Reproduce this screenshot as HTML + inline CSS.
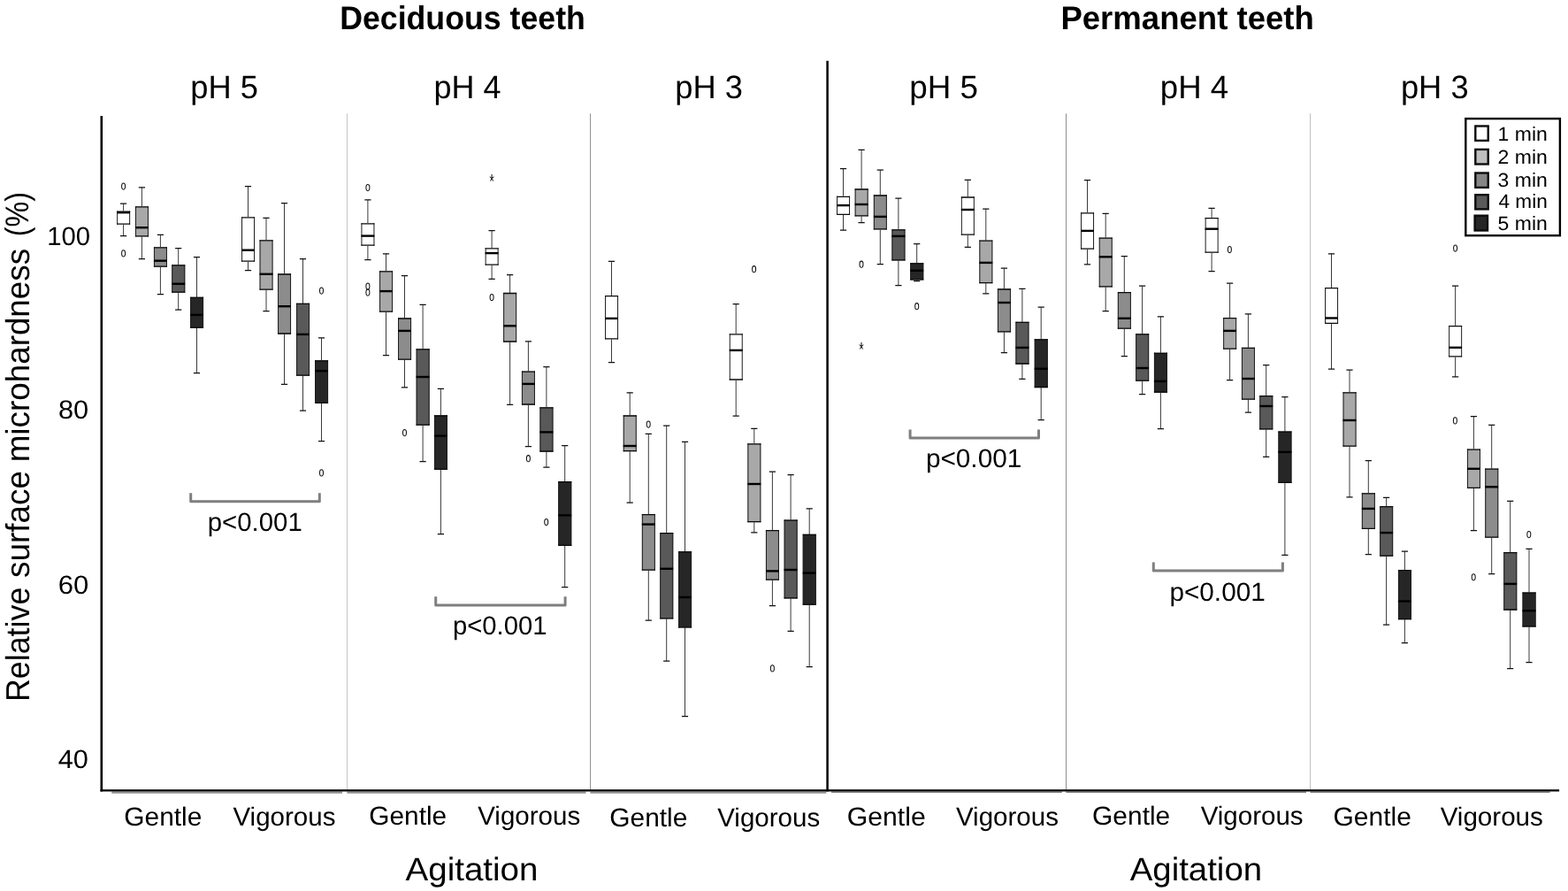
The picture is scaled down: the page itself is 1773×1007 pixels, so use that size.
<!DOCTYPE html>
<html lang="en"><head><meta charset="utf-8"><title>Relative surface microhardness</title>
<style>
html,body{margin:0;padding:0;background:#fff;}
body{width:1773px;height:1007px;overflow:hidden;}
svg{display:block;position:absolute;left:0;top:0;}
text{font-family:"Liberation Sans",sans-serif;fill:#000;text-rendering:geometricPrecision;}
.bv{stroke:#1c1c1c;stroke-width:1;fill:none;}
.bh{stroke:#0a0a0a;stroke-width:1.3;fill:none;}
.wh{stroke:#3a3a3a;stroke-width:1;fill:none;}
.cp{stroke:#111;stroke-width:1.25;fill:none;}
.md{stroke:#000;stroke-width:2.4;}
.ol{stroke:#111;stroke-width:1.05;fill:none;}
.st{stroke:#111;stroke-width:1;fill:none;}
.br{stroke:#7f7f7f;stroke-width:3;fill:none;stroke-linejoin:round;stroke-linecap:butt;}
</style></head><body>
<svg width="1773" height="1007" viewBox="0 0 1773 1007">
<rect x="0" y="0" width="1773" height="1007" fill="#fff"/>
<g fill="none">
<line x1="392.5" y1="128.3" x2="392.5" y2="893" stroke="#c4c4c4" stroke-width="1"/>
<line x1="667.6" y1="128.3" x2="667.6" y2="893" stroke="#8c8c8c" stroke-width="1"/>
<line x1="1205.5" y1="128.3" x2="1205.5" y2="893" stroke="#8c8c8c" stroke-width="1"/>
<line x1="1481.6" y1="128.3" x2="1481.6" y2="893" stroke="#bdbdbd" stroke-width="1"/>
<line x1="114.8" y1="131" x2="114.8" y2="894.5" stroke="#000" stroke-width="2.6"/>
<line x1="126.2" y1="895.6" x2="387" y2="895.6" stroke="#909090" stroke-width="2.2"/>
<line x1="392.3" y1="895.6" x2="662.5" y2="895.6" stroke="#909090" stroke-width="2.2"/>
<line x1="667.4" y1="895.6" x2="934.3" y2="895.6" stroke="#909090" stroke-width="2.2"/>
<line x1="940" y1="895.2" x2="1200.8" y2="895.2" stroke="#7a7a7a" stroke-width="1.5"/>
<line x1="1205.4" y1="895.2" x2="1477" y2="895.2" stroke="#7a7a7a" stroke-width="1.5"/>
<line x1="1481.5" y1="895.2" x2="1752.6" y2="895.2" stroke="#7a7a7a" stroke-width="1.5"/>
<line x1="113.5" y1="893.4" x2="1763.1" y2="893.4" stroke="#000" stroke-width="2.2"/>
<line x1="935.6" y1="68.7" x2="935.6" y2="894.5" stroke="#000" stroke-width="2.5"/>
</g>
<g id="p1g">
<path class="wh" d="M139.6 230.1V238.7M139.6 253.6V266.7"/>
<path class="cp" d="M136 230.1H143.2M136 266.7H143.2"/>
<rect x="132.15" y="238.5" width="15" height="15.3" fill="#ffffff"/>
<path class="bv" d="M132.65 238.5V253.8M146.65 238.5V253.8"/>
<path class="bh" d="M132.15 239.1H147.15M132.15 253.2H147.15"/>
<line class="md" x1="132.15" y1="240.2" x2="147.05" y2="240.2"/>
<path class="wh" d="M160.4 211.8V233.5M160.4 267.3V292.5"/>
<path class="cp" d="M156.8 211.8H164M156.8 292.5H164"/>
<rect x="152.95" y="233.3" width="15" height="34.2" fill="#a8a8a8"/>
<path class="bv" d="M153.45 233.3V267.5M167.45 233.3V267.5"/>
<path class="bh" d="M152.95 233.9H167.95M152.95 266.9H167.95"/>
<line class="md" x1="152.95" y1="257.2" x2="167.85" y2="257.2"/>
<path class="wh" d="M181.4 265.4V279.5M181.4 301.5V332.6"/>
<path class="cp" d="M177.8 265.4H185M177.8 332.6H185"/>
<rect x="173.95" y="279.3" width="15" height="22.4" fill="#8c8c8c"/>
<path class="bv" d="M174.45 279.3V301.7M188.45 279.3V301.7"/>
<path class="bh" d="M173.95 279.9H188.95M173.95 301.1H188.95"/>
<line class="md" x1="173.95" y1="294.7" x2="188.85" y2="294.7"/>
<path class="wh" d="M201.7 280.5V299.5M201.7 330.6V350.1"/>
<path class="cp" d="M198.1 280.5H205.3M198.1 350.1H205.3"/>
<rect x="194.25" y="299.3" width="15" height="31.5" fill="#595959"/>
<path class="bv" d="M194.75 299.3V330.8M208.75 299.3V330.8"/>
<path class="bh" d="M194.25 299.9H209.25M194.25 330.2H209.25"/>
<line class="md" x1="194.25" y1="320.8" x2="209.15" y2="320.8"/>
<path class="wh" d="M222.5 290.7V336M222.5 370.6V421.5"/>
<path class="cp" d="M218.9 290.7H226.1M218.9 421.5H226.1"/>
<rect x="215.05" y="335.8" width="15" height="35" fill="#262626"/>
<path class="bv" d="M215.55 335.8V370.8M229.55 335.8V370.8"/>
<path class="bh" d="M215.05 336.4H230.05M215.05 370.2H230.05"/>
<line class="md" x1="215.05" y1="355.9" x2="229.95" y2="355.9"/>
</g>
<g id="p1v">
<path class="wh" d="M280.5 210.6V245.5M280.5 295.6V305.7"/>
<path class="cp" d="M276.9 210.6H284.1M276.9 305.7H284.1"/>
<rect x="273.05" y="245.3" width="15" height="50.5" fill="#ffffff"/>
<path class="bv" d="M273.55 245.3V295.8M287.55 245.3V295.8"/>
<path class="bh" d="M273.05 245.9H288.05M273.05 295.2H288.05"/>
<line class="md" x1="273.05" y1="282.7" x2="287.95" y2="282.7"/>
<path class="wh" d="M301 246.3V271.5M301 327.5V351.5"/>
<path class="cp" d="M297.4 246.3H304.6M297.4 351.5H304.6"/>
<rect x="293.55" y="271.3" width="15" height="56.4" fill="#a8a8a8"/>
<path class="bv" d="M294.05 271.3V327.7M308.05 271.3V327.7"/>
<path class="bh" d="M293.55 271.9H308.55M293.55 327.1H308.55"/>
<line class="md" x1="293.55" y1="309.8" x2="308.45" y2="309.8"/>
<path class="wh" d="M321.5 229.6V309.6M321.5 377.4V434.4"/>
<path class="cp" d="M317.9 229.6H325.1M317.9 434.4H325.1"/>
<rect x="314.05" y="309.4" width="15" height="68.2" fill="#8c8c8c"/>
<path class="bv" d="M314.55 309.4V377.6M328.55 309.4V377.6"/>
<path class="bh" d="M314.05 310H329.05M314.05 377H329.05"/>
<line class="md" x1="314.05" y1="346.2" x2="328.95" y2="346.2"/>
<path class="wh" d="M342.5 292.5V343M342.5 424.5V464"/>
<path class="cp" d="M338.9 292.5H346.1M338.9 464H346.1"/>
<rect x="335.05" y="342.8" width="15" height="81.9" fill="#595959"/>
<path class="bv" d="M335.55 342.8V424.7M349.55 342.8V424.7"/>
<path class="bh" d="M335.05 343.4H350.05M335.05 424.1H350.05"/>
<line class="md" x1="335.05" y1="377.9" x2="349.95" y2="377.9"/>
<path class="wh" d="M363.5 381.8V407.5M363.5 455.8V498.5"/>
<path class="cp" d="M359.9 381.8H367.1M359.9 498.5H367.1"/>
<rect x="356.05" y="407.3" width="15" height="48.7" fill="#262626"/>
<path class="bv" d="M356.55 407.3V456M370.55 407.3V456"/>
<path class="bh" d="M356.05 407.9H371.05M356.05 455.4H371.05"/>
<line class="md" x1="356.05" y1="419.2" x2="370.95" y2="419.2"/>
</g>
<g id="p2g">
<path class="wh" d="M415.9 225.9V252.4M415.9 277.6V293.5"/>
<path class="cp" d="M412.3 225.9H419.5M412.3 293.5H419.5"/>
<rect x="408.45" y="252.2" width="15" height="25.6" fill="#ffffff"/>
<path class="bv" d="M408.95 252.2V277.8M422.95 252.2V277.8"/>
<path class="bh" d="M408.45 252.8H423.45M408.45 277.2H423.45"/>
<line class="md" x1="408.45" y1="266.6" x2="423.35" y2="266.6"/>
<path class="wh" d="M436.5 286.8V306.4M436.5 352.5V401.7"/>
<path class="cp" d="M432.9 286.8H440.1M432.9 401.7H440.1"/>
<rect x="429.05" y="306.2" width="15" height="46.5" fill="#a8a8a8"/>
<path class="bv" d="M429.55 306.2V352.7M443.55 306.2V352.7"/>
<path class="bh" d="M429.05 306.8H444.05M429.05 352.1H444.05"/>
<line class="md" x1="429.05" y1="329.1" x2="443.95" y2="329.1"/>
<path class="wh" d="M457.5 311.5V359.6M457.5 406.5V437.9"/>
<path class="cp" d="M453.9 311.5H461.1M453.9 437.9H461.1"/>
<rect x="450.05" y="359.4" width="15" height="47.3" fill="#8c8c8c"/>
<path class="bv" d="M450.55 359.4V406.7M464.55 359.4V406.7"/>
<path class="bh" d="M450.05 360H465.05M450.05 406.1H465.05"/>
<line class="md" x1="450.05" y1="373.9" x2="464.95" y2="373.9"/>
<path class="wh" d="M478.1 344.3V394.5M478.1 480.6V521.5"/>
<path class="cp" d="M474.5 344.3H481.7M474.5 521.5H481.7"/>
<rect x="470.65" y="394.3" width="15" height="86.5" fill="#595959"/>
<path class="bv" d="M471.15 394.3V480.8M485.15 394.3V480.8"/>
<path class="bh" d="M470.65 394.9H485.65M470.65 480.2H485.65"/>
<line class="md" x1="470.65" y1="426" x2="485.55" y2="426"/>
<path class="wh" d="M498.4 439.3V469.6M498.4 530.7V603.5"/>
<path class="cp" d="M494.8 439.3H502M494.8 603.5H502"/>
<rect x="490.95" y="469.4" width="15" height="61.5" fill="#262626"/>
<path class="bv" d="M491.45 469.4V530.9M505.45 469.4V530.9"/>
<path class="bh" d="M490.95 470H505.95M490.95 530.3H505.95"/>
<line class="md" x1="490.95" y1="492.6" x2="505.85" y2="492.6"/>
</g>
<g id="p2v">
<path class="wh" d="M556.1 260.5V280.5M556.1 299.5V315.3"/>
<path class="cp" d="M552.5 260.5H559.7M552.5 315.3H559.7"/>
<rect x="548.65" y="280.3" width="15" height="19.4" fill="#ffffff"/>
<path class="bv" d="M549.15 280.3V299.7M563.15 280.3V299.7"/>
<path class="bh" d="M548.65 280.9H563.65M548.65 299.1H563.65"/>
<line class="md" x1="548.65" y1="286.1" x2="563.55" y2="286.1"/>
<path class="wh" d="M576.6 310.5V331.1M576.6 386.4V457.4"/>
<path class="cp" d="M573 310.5H580.2M573 457.4H580.2"/>
<rect x="569.15" y="330.9" width="15" height="55.7" fill="#a8a8a8"/>
<path class="bv" d="M569.65 330.9V386.6M583.65 330.9V386.6"/>
<path class="bh" d="M569.15 331.5H584.15M569.15 386H584.15"/>
<line class="md" x1="569.15" y1="368.3" x2="584.05" y2="368.3"/>
<path class="wh" d="M597.4 385.9V419.7M597.4 457.4V504.6"/>
<path class="cp" d="M593.8 385.9H601M593.8 504.6H601"/>
<rect x="589.95" y="419.5" width="15" height="38.1" fill="#8c8c8c"/>
<path class="bv" d="M590.45 419.5V457.6M604.45 419.5V457.6"/>
<path class="bh" d="M589.95 420.1H604.95M589.95 457H604.95"/>
<line class="md" x1="589.95" y1="433.9" x2="604.85" y2="433.9"/>
<path class="wh" d="M617.9 414.5V460.5M617.9 510.4V528.1"/>
<path class="cp" d="M614.3 414.5H621.5M614.3 528.1H621.5"/>
<rect x="610.45" y="460.3" width="15" height="50.3" fill="#595959"/>
<path class="bv" d="M610.95 460.3V510.6M624.95 460.3V510.6"/>
<path class="bh" d="M610.45 460.9H625.45M610.45 510H625.45"/>
<line class="md" x1="610.45" y1="488.4" x2="625.35" y2="488.4"/>
<path class="wh" d="M638.7 503.5V544.2M638.7 616.8V663.6"/>
<path class="cp" d="M635.1 503.5H642.3M635.1 663.6H642.3"/>
<rect x="631.25" y="544" width="15" height="73" fill="#262626"/>
<path class="bv" d="M631.75 544V617M645.75 544V617"/>
<path class="bh" d="M631.25 544.6H646.25M631.25 616.4H646.25"/>
<line class="md" x1="631.25" y1="582.4" x2="646.15" y2="582.4"/>
</g>
<g id="p3g">
<path class="wh" d="M691.5 295.4V334.3M691.5 383.2V409.7"/>
<path class="cp" d="M687.9 295.4H695.1M687.9 409.7H695.1"/>
<rect x="684.05" y="334.1" width="15" height="49.3" fill="#ffffff"/>
<path class="bv" d="M684.55 334.1V383.4M698.55 334.1V383.4"/>
<path class="bh" d="M684.05 334.7H699.05M684.05 382.8H699.05"/>
<line class="md" x1="684.05" y1="359.9" x2="698.95" y2="359.9"/>
<path class="wh" d="M712.2 443.8V469.6M712.2 510.1V568"/>
<path class="cp" d="M708.6 443.8H715.8M708.6 568H715.8"/>
<rect x="704.75" y="469.4" width="15" height="40.9" fill="#a8a8a8"/>
<path class="bv" d="M705.25 469.4V510.3M719.25 469.4V510.3"/>
<path class="bh" d="M704.75 470H719.75M704.75 509.7H719.75"/>
<line class="md" x1="704.75" y1="504" x2="719.65" y2="504"/>
<path class="wh" d="M733.3 490.4V581.3M733.3 644.5V701"/>
<path class="cp" d="M729.7 490.4H736.9M729.7 701H736.9"/>
<rect x="725.85" y="581.1" width="15" height="63.6" fill="#8c8c8c"/>
<path class="bv" d="M726.35 581.1V644.7M740.35 581.1V644.7"/>
<path class="bh" d="M725.85 581.7H740.85M725.85 644.1H740.85"/>
<line class="md" x1="725.85" y1="592.6" x2="740.75" y2="592.6"/>
<path class="wh" d="M753.7 481V602.3M753.7 699.2V747.2"/>
<path class="cp" d="M750.1 481H757.3M750.1 747.2H757.3"/>
<rect x="746.25" y="602.1" width="15" height="97.3" fill="#595959"/>
<path class="bv" d="M746.75 602.1V699.4M760.75 602.1V699.4"/>
<path class="bh" d="M746.25 602.7H761.25M746.25 698.8H761.25"/>
<line class="md" x1="746.25" y1="642.8" x2="761.15" y2="642.8"/>
<path class="wh" d="M774.5 499.4V623.4M774.5 709.2V809.6"/>
<path class="cp" d="M770.9 499.4H778.1M770.9 809.6H778.1"/>
<rect x="767.05" y="623.2" width="15" height="86.2" fill="#262626"/>
<path class="bv" d="M767.55 623.2V709.4M781.55 623.2V709.4"/>
<path class="bh" d="M767.05 623.8H782.05M767.05 708.8H782.05"/>
<line class="md" x1="767.05" y1="675" x2="781.95" y2="675"/>
</g>
<g id="p3v">
<path class="wh" d="M832.2 343.6V377.5M832.2 429.4V470.2"/>
<path class="cp" d="M828.6 343.6H835.8M828.6 470.2H835.8"/>
<rect x="824.75" y="377.3" width="15" height="52.3" fill="#ffffff"/>
<path class="bv" d="M825.25 377.3V429.6M839.25 377.3V429.6"/>
<path class="bh" d="M824.75 377.9H839.75M824.75 429H839.75"/>
<line class="md" x1="824.75" y1="395.9" x2="839.65" y2="395.9"/>
<path class="wh" d="M852.8 484.3V501.4M852.8 590.1V601.9"/>
<path class="cp" d="M849.2 484.3H856.4M849.2 601.9H856.4"/>
<rect x="845.35" y="501.2" width="15" height="89.1" fill="#a8a8a8"/>
<path class="bv" d="M845.85 501.2V590.3M859.85 501.2V590.3"/>
<path class="bh" d="M845.35 501.8H860.35M845.35 589.7H860.35"/>
<line class="md" x1="845.35" y1="547" x2="860.25" y2="547"/>
<path class="wh" d="M873.4 533.1V599.2M873.4 655.5V684.6"/>
<path class="cp" d="M869.8 533.1H877M869.8 684.6H877"/>
<rect x="865.95" y="599" width="15" height="56.7" fill="#8c8c8c"/>
<path class="bv" d="M866.45 599V655.7M880.45 599V655.7"/>
<path class="bh" d="M865.95 599.6H880.95M865.95 655.1H880.95"/>
<line class="md" x1="865.95" y1="645.4" x2="880.85" y2="645.4"/>
<path class="wh" d="M894.1 536.6V587.7M894.1 676.3V713.3"/>
<path class="cp" d="M890.5 536.6H897.7M890.5 713.3H897.7"/>
<rect x="886.65" y="587.5" width="15" height="89" fill="#595959"/>
<path class="bv" d="M887.15 587.5V676.5M901.15 587.5V676.5"/>
<path class="bh" d="M886.65 588.1H901.65M886.65 675.9H901.65"/>
<line class="md" x1="886.65" y1="644" x2="901.55" y2="644"/>
<path class="wh" d="M915.2 574.9V604M915.2 683.6V753.6"/>
<path class="cp" d="M911.6 574.9H918.8M911.6 753.6H918.8"/>
<rect x="907.75" y="603.8" width="15" height="80" fill="#262626"/>
<path class="bv" d="M908.25 603.8V683.8M922.25 603.8V683.8"/>
<path class="bh" d="M907.75 604.4H922.75M907.75 683.2H922.75"/>
<line class="md" x1="907.75" y1="647.6" x2="922.65" y2="647.6"/>
</g>
<g id="p4g">
<path class="wh" d="M953.5 190.6V221.9M953.5 242.7V260.1"/>
<path class="cp" d="M949.9 190.6H957.1M949.9 260.1H957.1"/>
<rect x="946.05" y="221.7" width="15" height="21.2" fill="#ffffff"/>
<path class="bv" d="M946.55 221.7V242.9M960.55 221.7V242.9"/>
<path class="bh" d="M946.05 222.3H961.05M946.05 242.3H961.05"/>
<line class="md" x1="946.05" y1="232.1" x2="960.95" y2="232.1"/>
<path class="wh" d="M974.1 169.3V213.6M974.1 244.2V251.6"/>
<path class="cp" d="M970.5 169.3H977.7M970.5 251.6H977.7"/>
<rect x="966.65" y="213.4" width="15" height="31" fill="#a8a8a8"/>
<path class="bv" d="M967.15 213.4V244.4M981.15 213.4V244.4"/>
<path class="bh" d="M966.65 214H981.65M966.65 243.8H981.65"/>
<line class="md" x1="966.65" y1="231" x2="981.55" y2="231"/>
<path class="wh" d="M995.3 192.1V220.6M995.3 259.3V298.5"/>
<path class="cp" d="M991.7 192.1H998.9M991.7 298.5H998.9"/>
<rect x="987.85" y="220.4" width="15" height="39.1" fill="#8c8c8c"/>
<path class="bv" d="M988.35 220.4V259.5M1002.35 220.4V259.5"/>
<path class="bh" d="M987.85 221H1002.85M987.85 258.9H1002.85"/>
<line class="md" x1="987.85" y1="244.9" x2="1002.75" y2="244.9"/>
<path class="wh" d="M1015.9 224.1V259.5M1015.9 294.3V322.6"/>
<path class="cp" d="M1012.3 224.1H1019.5M1012.3 322.6H1019.5"/>
<rect x="1008.45" y="259.3" width="15" height="35.2" fill="#595959"/>
<path class="bv" d="M1008.95 259.3V294.5M1022.95 259.3V294.5"/>
<path class="bh" d="M1008.45 259.9H1023.45M1008.45 293.9H1023.45"/>
<line class="md" x1="1008.45" y1="266.9" x2="1023.35" y2="266.9"/>
<path class="wh" d="M1036.7 275.6V297.5M1036.7 316.2V317.6"/>
<path class="cp" d="M1033.1 275.6H1040.3M1033.1 317.6H1040.3"/>
<rect x="1029.25" y="297.3" width="15" height="19.1" fill="#262626"/>
<path class="bv" d="M1029.75 297.3V316.4M1043.75 297.3V316.4"/>
<path class="bh" d="M1029.25 297.9H1044.25M1029.25 315.8H1044.25"/>
<line class="md" x1="1029.25" y1="305.8" x2="1044.15" y2="305.8"/>
</g>
<g id="p4v">
<path class="wh" d="M1094.3 203.3V222.6M1094.3 265.6V279.4"/>
<path class="cp" d="M1090.7 203.3H1097.9M1090.7 279.4H1097.9"/>
<rect x="1086.85" y="222.4" width="15" height="43.4" fill="#ffffff"/>
<path class="bv" d="M1087.35 222.4V265.8M1101.35 222.4V265.8"/>
<path class="bh" d="M1086.85 223H1101.85M1086.85 265.2H1101.85"/>
<line class="md" x1="1086.85" y1="237" x2="1101.75" y2="237"/>
<path class="wh" d="M1114.8 236V271.8M1114.8 320V331.8"/>
<path class="cp" d="M1111.2 236H1118.4M1111.2 331.8H1118.4"/>
<rect x="1107.35" y="271.6" width="15" height="48.6" fill="#a8a8a8"/>
<path class="bv" d="M1107.85 271.6V320.2M1121.85 271.6V320.2"/>
<path class="bh" d="M1107.35 272.2H1122.35M1107.35 319.6H1122.35"/>
<line class="md" x1="1107.35" y1="296.9" x2="1122.25" y2="296.9"/>
<path class="wh" d="M1135.4 303.1V326.6M1135.4 375.2V398.6"/>
<path class="cp" d="M1131.8 303.1H1139M1131.8 398.6H1139"/>
<rect x="1127.95" y="326.4" width="15" height="49" fill="#8c8c8c"/>
<path class="bv" d="M1128.45 326.4V375.4M1142.45 326.4V375.4"/>
<path class="bh" d="M1127.95 327H1142.95M1127.95 374.8H1142.95"/>
<line class="md" x1="1127.95" y1="342" x2="1142.85" y2="342"/>
<path class="wh" d="M1155.9 326.3V364M1155.9 411.4V428.4"/>
<path class="cp" d="M1152.3 326.3H1159.5M1152.3 428.4H1159.5"/>
<rect x="1148.45" y="363.8" width="15" height="47.8" fill="#595959"/>
<path class="bv" d="M1148.95 363.8V411.6M1162.95 363.8V411.6"/>
<path class="bh" d="M1148.45 364.4H1163.45M1148.45 411H1163.45"/>
<line class="md" x1="1148.45" y1="392.9" x2="1163.35" y2="392.9"/>
<path class="wh" d="M1177.2 347.2V383.5M1177.2 437.9V474.6"/>
<path class="cp" d="M1173.6 347.2H1180.8M1173.6 474.6H1180.8"/>
<rect x="1169.75" y="383.3" width="15" height="54.8" fill="#262626"/>
<path class="bv" d="M1170.25 383.3V438.1M1184.25 383.3V438.1"/>
<path class="bh" d="M1169.75 383.9H1184.75M1169.75 437.5H1184.75"/>
<line class="md" x1="1169.75" y1="416.8" x2="1184.65" y2="416.8"/>
</g>
<g id="p5g">
<path class="wh" d="M1229.5 203.5V240.4M1229.5 281.5V298.9"/>
<path class="cp" d="M1225.9 203.5H1233.1M1225.9 298.9H1233.1"/>
<rect x="1222.05" y="240.2" width="15" height="41.5" fill="#ffffff"/>
<path class="bv" d="M1222.55 240.2V281.7M1236.55 240.2V281.7"/>
<path class="bh" d="M1222.05 240.8H1237.05M1222.05 281.1H1237.05"/>
<line class="md" x1="1222.05" y1="260.9" x2="1236.95" y2="260.9"/>
<path class="wh" d="M1250.2 241.4V268.8M1250.2 324.3V351.5"/>
<path class="cp" d="M1246.6 241.4H1253.8M1246.6 351.5H1253.8"/>
<rect x="1242.75" y="268.6" width="15" height="55.9" fill="#a8a8a8"/>
<path class="bv" d="M1243.25 268.6V324.5M1257.25 268.6V324.5"/>
<path class="bh" d="M1242.75 269.2H1257.75M1242.75 323.9H1257.75"/>
<line class="md" x1="1242.75" y1="290.3" x2="1257.65" y2="290.3"/>
<path class="wh" d="M1271.3 289.6V330.3M1271.3 371.5V402.6"/>
<path class="cp" d="M1267.7 289.6H1274.9M1267.7 402.6H1274.9"/>
<rect x="1263.85" y="330.1" width="15" height="41.6" fill="#8c8c8c"/>
<path class="bv" d="M1264.35 330.1V371.7M1278.35 330.1V371.7"/>
<path class="bh" d="M1263.85 330.7H1278.85M1263.85 371.1H1278.85"/>
<line class="md" x1="1263.85" y1="359.8" x2="1278.75" y2="359.8"/>
<path class="wh" d="M1291.6 323.1V377.4M1291.6 430.5V445.7"/>
<path class="cp" d="M1288 323.1H1295.2M1288 445.7H1295.2"/>
<rect x="1284.15" y="377.2" width="15" height="53.5" fill="#595959"/>
<path class="bv" d="M1284.65 377.2V430.7M1298.65 377.2V430.7"/>
<path class="bh" d="M1284.15 377.8H1299.15M1284.15 430.1H1299.15"/>
<line class="md" x1="1284.15" y1="416" x2="1299.05" y2="416"/>
<path class="wh" d="M1312.4 357.8V398.9M1312.4 443.6V484.6"/>
<path class="cp" d="M1308.8 357.8H1316M1308.8 484.6H1316"/>
<rect x="1304.95" y="398.7" width="15" height="45.1" fill="#262626"/>
<path class="bv" d="M1305.45 398.7V443.8M1319.45 398.7V443.8"/>
<path class="bh" d="M1304.95 399.3H1319.95M1304.95 443.2H1319.95"/>
<line class="md" x1="1304.95" y1="430.9" x2="1319.85" y2="430.9"/>
</g>
<g id="p5v">
<path class="wh" d="M1370.1 235.3V246.2M1370.1 285.6V306.5"/>
<path class="cp" d="M1366.5 235.3H1373.7M1366.5 306.5H1373.7"/>
<rect x="1362.65" y="246" width="15" height="39.8" fill="#ffffff"/>
<path class="bv" d="M1363.15 246V285.8M1377.15 246V285.8"/>
<path class="bh" d="M1362.65 246.6H1377.65M1362.65 285.2H1377.65"/>
<line class="md" x1="1362.65" y1="258.7" x2="1377.55" y2="258.7"/>
<path class="wh" d="M1390.6 320.1V359.3M1390.6 394.5V429.5"/>
<path class="cp" d="M1387 320.1H1394.2M1387 429.5H1394.2"/>
<rect x="1383.15" y="359.1" width="15" height="35.6" fill="#a8a8a8"/>
<path class="bv" d="M1383.65 359.1V394.7M1397.65 359.1V394.7"/>
<path class="bh" d="M1383.15 359.7H1398.15M1383.15 394.1H1398.15"/>
<line class="md" x1="1383.15" y1="373.9" x2="1398.05" y2="373.9"/>
<path class="wh" d="M1411.4 354.9V393M1411.4 451.5V466"/>
<path class="cp" d="M1407.8 354.9H1415M1407.8 466H1415"/>
<rect x="1403.95" y="392.8" width="15" height="58.9" fill="#8c8c8c"/>
<path class="bv" d="M1404.45 392.8V451.7M1418.45 392.8V451.7"/>
<path class="bh" d="M1403.95 393.4H1418.95M1403.95 451.1H1418.95"/>
<line class="md" x1="1403.95" y1="428" x2="1418.85" y2="428"/>
<path class="wh" d="M1431.7 412.6V447.3M1431.7 485.2V516.3"/>
<path class="cp" d="M1428.1 412.6H1435.3M1428.1 516.3H1435.3"/>
<rect x="1424.25" y="447.1" width="15" height="38.3" fill="#595959"/>
<path class="bv" d="M1424.75 447.1V485.4M1438.75 447.1V485.4"/>
<path class="bh" d="M1424.25 447.7H1439.25M1424.25 484.8H1439.25"/>
<line class="md" x1="1424.25" y1="459" x2="1439.15" y2="459"/>
<path class="wh" d="M1452.9 448.6V487.7M1452.9 545.7V627.4"/>
<path class="cp" d="M1449.3 448.6H1456.5M1449.3 627.4H1456.5"/>
<rect x="1445.45" y="487.5" width="15" height="58.4" fill="#262626"/>
<path class="bv" d="M1445.95 487.5V545.9M1459.95 487.5V545.9"/>
<path class="bh" d="M1445.45 488.1H1460.45M1445.45 545.3H1460.45"/>
<line class="md" x1="1445.45" y1="510.9" x2="1460.35" y2="510.9"/>
</g>
<g id="p6g">
<path class="wh" d="M1505.5 286.9V325.2M1505.5 365.8V417"/>
<path class="cp" d="M1501.9 286.9H1509.1M1501.9 417H1509.1"/>
<rect x="1498.05" y="325" width="15" height="41" fill="#ffffff"/>
<path class="bv" d="M1498.55 325V366M1512.55 325V366"/>
<path class="bh" d="M1498.05 325.6H1513.05M1498.05 365.4H1513.05"/>
<line class="md" x1="1498.05" y1="359.5" x2="1512.95" y2="359.5"/>
<path class="wh" d="M1526 418.2V443.4M1526 504.5V561.9"/>
<path class="cp" d="M1522.4 418.2H1529.6M1522.4 561.9H1529.6"/>
<rect x="1518.55" y="443.2" width="15" height="61.5" fill="#a8a8a8"/>
<path class="bv" d="M1519.05 443.2V504.7M1533.05 443.2V504.7"/>
<path class="bh" d="M1518.55 443.8H1533.55M1518.55 504.1H1533.55"/>
<line class="md" x1="1518.55" y1="475" x2="1533.45" y2="475"/>
<path class="wh" d="M1547.3 520.5V557.4M1547.3 597.7V626.5"/>
<path class="cp" d="M1543.7 520.5H1550.9M1543.7 626.5H1550.9"/>
<rect x="1539.85" y="557.2" width="15" height="40.7" fill="#8c8c8c"/>
<path class="bv" d="M1540.35 557.2V597.9M1554.35 557.2V597.9"/>
<path class="bh" d="M1539.85 557.8H1554.85M1539.85 597.3H1554.85"/>
<line class="md" x1="1539.85" y1="574.9" x2="1554.75" y2="574.9"/>
<path class="wh" d="M1567.6 562.3V572.3M1567.6 628.6V706.2"/>
<path class="cp" d="M1564 562.3H1571.2M1564 706.2H1571.2"/>
<rect x="1560.15" y="572.1" width="15" height="56.7" fill="#595959"/>
<path class="bv" d="M1560.65 572.1V628.8M1574.65 572.1V628.8"/>
<path class="bh" d="M1560.15 572.7H1575.15M1560.15 628.2H1575.15"/>
<line class="md" x1="1560.15" y1="602.1" x2="1575.05" y2="602.1"/>
<path class="wh" d="M1588.4 623V644.3M1588.4 700V726.7"/>
<path class="cp" d="M1584.8 623H1592M1584.8 726.7H1592"/>
<rect x="1580.95" y="644.1" width="15" height="56.1" fill="#262626"/>
<path class="bv" d="M1581.45 644.1V700.2M1595.45 644.1V700.2"/>
<path class="bh" d="M1580.95 644.7H1595.95M1580.95 699.6H1595.95"/>
<line class="md" x1="1580.95" y1="679.5" x2="1595.85" y2="679.5"/>
</g>
<g id="p6v">
<path class="wh" d="M1645.6 323V368.3M1645.6 403.2V425.9"/>
<path class="cp" d="M1642 323H1649.2M1642 425.9H1649.2"/>
<rect x="1638.15" y="368.1" width="15" height="35.3" fill="#ffffff"/>
<path class="bv" d="M1638.65 368.1V403.4M1652.65 368.1V403.4"/>
<path class="bh" d="M1638.15 368.7H1653.15M1638.15 402.8H1653.15"/>
<line class="md" x1="1638.15" y1="392.8" x2="1653.05" y2="392.8"/>
<path class="wh" d="M1666.4 470.5V507.7M1666.4 551.7V599.5"/>
<path class="cp" d="M1662.8 470.5H1670M1662.8 599.5H1670"/>
<rect x="1658.95" y="507.5" width="15" height="44.4" fill="#a8a8a8"/>
<path class="bv" d="M1659.45 507.5V551.9M1673.45 507.5V551.9"/>
<path class="bh" d="M1658.95 508.1H1673.95M1658.95 551.3H1673.95"/>
<line class="md" x1="1658.95" y1="529.8" x2="1673.85" y2="529.8"/>
<path class="wh" d="M1686.7 480.3V529.8M1686.7 607.5V648.7"/>
<path class="cp" d="M1683.1 480.3H1690.3M1683.1 648.7H1690.3"/>
<rect x="1679.25" y="529.6" width="15" height="78.1" fill="#8c8c8c"/>
<path class="bv" d="M1679.75 529.6V607.7M1693.75 529.6V607.7"/>
<path class="bh" d="M1679.25 530.2H1694.25M1679.25 607.1H1694.25"/>
<line class="md" x1="1679.25" y1="550.3" x2="1694.15" y2="550.3"/>
<path class="wh" d="M1707.7 566.4V624.2M1707.7 689.4V755.6"/>
<path class="cp" d="M1704.1 566.4H1711.3M1704.1 755.6H1711.3"/>
<rect x="1700.25" y="624" width="15" height="65.6" fill="#595959"/>
<path class="bv" d="M1700.75 624V689.6M1714.75 624V689.6"/>
<path class="bh" d="M1700.25 624.6H1715.25M1700.25 689H1715.25"/>
<line class="md" x1="1700.25" y1="659.9" x2="1715.15" y2="659.9"/>
<path class="wh" d="M1729 620.3V669.7M1729 708.3V748.7"/>
<path class="cp" d="M1725.4 620.3H1732.6M1725.4 748.7H1732.6"/>
<rect x="1721.55" y="669.5" width="15" height="39" fill="#262626"/>
<path class="bv" d="M1722.05 669.5V708.5M1736.05 669.5V708.5"/>
<path class="bh" d="M1721.55 670.1H1736.55M1721.55 707.9H1736.55"/>
<line class="md" x1="1721.55" y1="690.2" x2="1736.45" y2="690.2"/>
</g>
<g id="outliers">
<ellipse class="ol" cx="139.6" cy="210.6" rx="2" ry="3.6"/>
<ellipse class="ol" cx="139.6" cy="286.4" rx="2" ry="3.6"/>
<ellipse class="ol" cx="363.5" cy="328.6" rx="2" ry="3.6"/>
<ellipse class="ol" cx="363.5" cy="534.4" rx="2" ry="3.6"/>
<ellipse class="ol" cx="415.9" cy="212.1" rx="2" ry="3.6"/>
<ellipse class="ol" cx="415.9" cy="323.5" rx="2" ry="3.6"/>
<ellipse class="ol" cx="415.9" cy="330.6" rx="2" ry="3.6"/>
<ellipse class="ol" cx="457.5" cy="489.1" rx="2" ry="3.6"/>
<ellipse class="ol" cx="556.1" cy="336" rx="2" ry="3.6"/>
<ellipse class="ol" cx="597.4" cy="518.2" rx="2" ry="3.6"/>
<ellipse class="ol" cx="617.7" cy="590" rx="2" ry="3.6"/>
<ellipse class="ol" cx="733.2" cy="479.6" rx="2" ry="3.6"/>
<ellipse class="ol" cx="852.6" cy="304.2" rx="2" ry="3.6"/>
<ellipse class="ol" cx="873.4" cy="755.4" rx="2" ry="3.6"/>
<ellipse class="ol" cx="974" cy="298.7" rx="2" ry="3.6"/>
<ellipse class="ol" cx="1036.7" cy="346.2" rx="2" ry="3.6"/>
<ellipse class="ol" cx="1390.4" cy="282" rx="2" ry="3.6"/>
<ellipse class="ol" cx="1645.6" cy="280.5" rx="2" ry="3.6"/>
<ellipse class="ol" cx="1645.4" cy="475.4" rx="2" ry="3.6"/>
<ellipse class="ol" cx="1666.2" cy="652.3" rx="2" ry="3.6"/>
<ellipse class="ol" cx="1728.8" cy="604.1" rx="2" ry="3.6"/>
<path class="st" d="M556.1 201.2L556.1 197M556.1 201.2L558.48 199.9M556.1 201.2L557.57 204.6M556.1 201.2L554.63 204.6M556.1 201.2L553.72 199.9"/>
<path class="st" d="M974 391.1L974 386.9M974 391.1L976.38 389.8M974 391.1L975.47 394.5M974 391.1L972.53 394.5M974 391.1L971.62 389.8"/>
</g>
<g id="brackets">
<path class="br" d="M215.7 557.2V566.7H361.3V557.2"/>
<path class="br" d="M492.7 674.3V683.9H639.1V674.3"/>
<path class="br" d="M1029.1 485.5V494.9H1174.5V485.5"/>
<path class="br" d="M1304.3 635.6V645.1H1450.4V635.6"/>
</g>
<g id="legend">
<rect x="1657.3" y="134.1" width="106.6" height="132.1" fill="#fff" stroke="#000" stroke-width="2.4"/>
<rect x="1668.3" y="142.5" width="14.4" height="16.4" fill="#ffffff" stroke="#0c0c0c" stroke-width="2.4"/>
<rect x="1668.3" y="168.9" width="14.4" height="16.6" fill="#bfbfbf" stroke="#0c0c0c" stroke-width="2.4"/>
<rect x="1668.3" y="195.5" width="14.4" height="16.4" fill="#868686" stroke="#0c0c0c" stroke-width="2.4"/>
<rect x="1668.3" y="220.2" width="14.4" height="16.2" fill="#5a5a5a" stroke="#0c0c0c" stroke-width="2.4"/>
<rect x="1667.6" y="243.7" width="14.4" height="16.8" fill="#262626" stroke="#0c0c0c" stroke-width="2.4"/>
</g>
<g id="labels">
<text id="t0" x="384.14" y="33" font-size="37.2" font-weight="bold" textLength="277.78" lengthAdjust="spacingAndGlyphs">Deciduous teeth</text>
<text id="t1" x="1199.42" y="33" font-size="37.2" font-weight="bold" textLength="286.44" lengthAdjust="spacingAndGlyphs">Permanent teeth</text>
<text id="t2" x="215.36" y="111" font-size="36.8" font-weight="normal" textLength="76.66" lengthAdjust="spacingAndGlyphs">pH 5</text>
<text id="t3" x="490.42" y="111" font-size="36.8" font-weight="normal" textLength="75.98" lengthAdjust="spacingAndGlyphs">pH 4</text>
<text id="t4" x="763.3" y="111" font-size="36.8" font-weight="normal" textLength="76.66" lengthAdjust="spacingAndGlyphs">pH 3</text>
<text id="t5" x="1028.3" y="111" font-size="36.8" font-weight="normal" textLength="77.72" lengthAdjust="spacingAndGlyphs">pH 5</text>
<text id="t6" x="1311.8" y="111" font-size="36.8" font-weight="normal" textLength="77.38" lengthAdjust="spacingAndGlyphs">pH 4</text>
<text id="t7" x="1583.92" y="111" font-size="36.8" font-weight="normal" textLength="76.66" lengthAdjust="spacingAndGlyphs">pH 3</text>
<text id="t8" x="53.2" y="277" font-size="29.5" font-weight="normal" textLength="48.92" lengthAdjust="spacingAndGlyphs">100</text>
<text id="t9" x="66.04" y="473.3" font-size="29.5" font-weight="normal" textLength="34.2" lengthAdjust="spacingAndGlyphs">80</text>
<text id="t10" x="65.7" y="670.6" font-size="29.5" font-weight="normal" textLength="34.54" lengthAdjust="spacingAndGlyphs">60</text>
<text id="t11" x="65.82" y="867.7" font-size="29.5" font-weight="normal" textLength="34.14" lengthAdjust="spacingAndGlyphs">40</text>
<text id="t12" x="140.26" y="932.9" font-size="29.5" font-weight="normal" textLength="88.14" lengthAdjust="spacingAndGlyphs">Gentle</text>
<text id="t13" x="263.44" y="932.9" font-size="29.5" font-weight="normal" textLength="115.96" lengthAdjust="spacingAndGlyphs">Vigorous</text>
<text id="t14" x="417.32" y="932.2" font-size="29.5" font-weight="normal" textLength="87.86" lengthAdjust="spacingAndGlyphs">Gentle</text>
<text id="t15" x="540.22" y="931.9" font-size="29.5" font-weight="normal" textLength="115.96" lengthAdjust="spacingAndGlyphs">Vigorous</text>
<text id="t16" x="689.26" y="933.9" font-size="29.5" font-weight="normal" textLength="88.14" lengthAdjust="spacingAndGlyphs">Gentle</text>
<text id="t17" x="811.22" y="933.9" font-size="29.5" font-weight="normal" textLength="115.96" lengthAdjust="spacingAndGlyphs">Vigorous</text>
<text id="t18" x="957.76" y="932.9" font-size="29.5" font-weight="normal" textLength="89.04" lengthAdjust="spacingAndGlyphs">Gentle</text>
<text id="t19" x="1080.94" y="932.9" font-size="29.5" font-weight="normal" textLength="115.96" lengthAdjust="spacingAndGlyphs">Vigorous</text>
<text id="t20" x="1235.1" y="932.2" font-size="29.5" font-weight="normal" textLength="88.14" lengthAdjust="spacingAndGlyphs">Gentle</text>
<text id="t21" x="1357.66" y="932.2" font-size="29.5" font-weight="normal" textLength="115.96" lengthAdjust="spacingAndGlyphs">Vigorous</text>
<text id="t22" x="1507.5" y="933.2" font-size="29.5" font-weight="normal" textLength="88.34" lengthAdjust="spacingAndGlyphs">Gentle</text>
<text id="t23" x="1628.66" y="933.2" font-size="29.5" font-weight="normal" textLength="116.2" lengthAdjust="spacingAndGlyphs">Vigorous</text>
<text id="t24" x="458.56" y="995" font-size="36.8" font-weight="normal" textLength="149.92" lengthAdjust="spacingAndGlyphs">Agitation</text>
<text id="t25" x="1277.72" y="995" font-size="36.8" font-weight="normal" textLength="149.36" lengthAdjust="spacingAndGlyphs">Agitation</text>
<text id="t26" x="234.76" y="599.9" font-size="29.5" font-weight="normal" textLength="106.98" lengthAdjust="spacingAndGlyphs">p&lt;0.001</text>
<text id="t27" x="511.98" y="717" font-size="29.5" font-weight="normal" textLength="106.48" lengthAdjust="spacingAndGlyphs">p&lt;0.001</text>
<text id="t28" x="1046.92" y="528.1" font-size="29.5" font-weight="normal" textLength="108.38" lengthAdjust="spacingAndGlyphs">p&lt;0.001</text>
<text id="t29" x="1322.42" y="679" font-size="29.5" font-weight="normal" textLength="108.38" lengthAdjust="spacingAndGlyphs">p&lt;0.001</text>
<text id="t30" x="1693.54" y="158.9" font-size="22.1" font-weight="normal" textLength="56.26" lengthAdjust="spacingAndGlyphs">1 min</text>
<text id="t31" x="1693.54" y="184.6" font-size="22.1" font-weight="normal" textLength="56.26" lengthAdjust="spacingAndGlyphs">2 min</text>
<text id="t32" x="1693.54" y="210.7" font-size="22.1" font-weight="normal" textLength="56.26" lengthAdjust="spacingAndGlyphs">3 min</text>
<text id="t33" x="1694.44" y="235.1" font-size="22.1" font-weight="normal" textLength="55.36" lengthAdjust="spacingAndGlyphs">4 min</text>
<text id="t34" x="1693.54" y="259.8" font-size="22.1" font-weight="normal" textLength="56.26" lengthAdjust="spacingAndGlyphs">5 min</text>
<text id="y0" transform="translate(33.4 792.98) rotate(-90)" x="0" y="0" font-size="37.6" textLength="129.28" lengthAdjust="spacingAndGlyphs">Relative</text>
<text id="y1" transform="translate(33.4 652.9) rotate(-90)" x="0" y="0" font-size="37.6" textLength="120.86" lengthAdjust="spacingAndGlyphs">surface</text>
<text id="y2" transform="translate(33.4 522.36) rotate(-90)" x="0" y="0" font-size="37.6" textLength="241.54" lengthAdjust="spacingAndGlyphs">microhardness</text>
<text id="y3" transform="translate(32.2 267.3) rotate(-90)" x="0" y="0" font-size="37.2" textLength="50.32" lengthAdjust="spacingAndGlyphs">(%)</text>
</g>
</svg>
</body></html>
